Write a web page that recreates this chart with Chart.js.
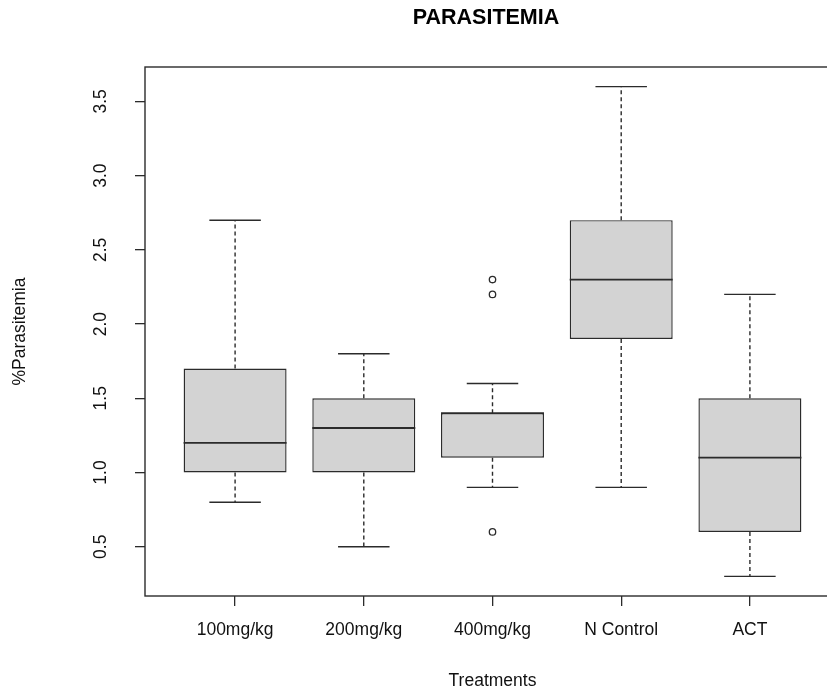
<!DOCTYPE html>
<html>
<head>
<meta charset="utf-8">
<title>PARASITEMIA</title>
<script src="https://cdn.jsdelivr.net/npm/chart.js@4"></script>
<style>
    html, body { margin: 0; padding: 0; background: #fff; overflow: hidden; }
    #wrap { width: 827px; height: 692px; overflow: hidden; }
</style>
</head>
<body>
<div id="wrap">
    <canvas id="chart-box" width="850" height="692"></canvas>
</div>
<script>
// valores
const groups = ['100mg/kg', '200mg/kg', '400mg/kg', 'N Control', 'ACT'];
const whiskerLow = [0.8, 0.5, 0.9, 0.9, 0.3];
const q1 = [1.0, 1.0, 1.1, 1.9, 0.6];
const median = [1.2, 1.3, 1.4, 2.3, 1.1];
const q3 = [1.7, 1.5, 1.4, 2.7, 1.5];
const whiskerHigh = [2.7, 1.8, 1.6, 3.6, 2.2];
const outlierGroup = [3, 3, 3];
const outlierValue = [0.6, 2.2, 2.3];
const yTicks = [0.5, 1.0, 1.5, 2.0, 2.5, 3.0, 3.5];
const xTicks = [1, 2, 3, 4, 5];

const lineColor = '#2b2b2b';
const fontFamily = "'Liberation Sans', Arial, sans-serif";
const canvasBox = document.getElementById('chart-box');

const boxData = groups.map((g, i) => ({ x: i + 1, y: [q1[i], q3[i]] }));
const outlierData = outlierGroup.map((g, i) => ({ x: g, y: outlierValue[i] }));

// bigodes, medianas, moldura e textos do eixo y
const boxExtras = {
    id: 'boxExtras',
    afterDatasetsDraw(chart) {
        const { ctx, chartArea } = chart;
        const xs = chart.scales.x;
        const ys = chart.scales.y;
        ctx.save();
        ctx.strokeStyle = lineColor;
        ctx.lineWidth = 1.4;
        groups.forEach((g, i) => {
            const cx = xs.getPixelForValue(i + 1);
            const capL = xs.getPixelForValue(i + 1 - 0.2);
            const capR = xs.getPixelForValue(i + 1 + 0.2);
            const boxL = xs.getPixelForValue(i + 1 - 0.4);
            const boxR = xs.getPixelForValue(i + 1 + 0.4);
            // tracejado
            ctx.setLineDash([4, 3]);
            ctx.beginPath();
            ctx.moveTo(cx, ys.getPixelForValue(q3[i]));
            ctx.lineTo(cx, ys.getPixelForValue(whiskerHigh[i]));
            ctx.moveTo(cx, ys.getPixelForValue(q1[i]));
            ctx.lineTo(cx, ys.getPixelForValue(whiskerLow[i]));
            ctx.stroke();
            ctx.setLineDash([]);
            // caps
            ctx.beginPath();
            ctx.moveTo(capL, ys.getPixelForValue(whiskerHigh[i]));
            ctx.lineTo(capR, ys.getPixelForValue(whiskerHigh[i]));
            ctx.moveTo(capL, ys.getPixelForValue(whiskerLow[i]));
            ctx.lineTo(capR, ys.getPixelForValue(whiskerLow[i]));
            ctx.stroke();
            // mediana
            ctx.lineWidth = 1.8;
            ctx.beginPath();
            ctx.moveTo(boxL, ys.getPixelForValue(median[i]));
            ctx.lineTo(boxR, ys.getPixelForValue(median[i]));
            ctx.stroke();
            ctx.lineWidth = 1.4;
        });
        // moldura
        ctx.strokeRect(chartArea.left, chartArea.top, chartArea.right - chartArea.left, chartArea.bottom - chartArea.top);
        ctx.restore();
    },
    afterDraw(chart) {
        const { ctx } = chart;
        const ys = chart.scales.y;
        ctx.save();
        ctx.fillStyle = '#111';
        ctx.font = '17.5px ' + fontFamily;
        ctx.textAlign = 'center';
        ctx.textBaseline = 'middle';
        yTicks.forEach(v => {
            ctx.save();
            ctx.translate(101, ys.getPixelForValue(v));
            ctx.rotate(-Math.PI / 2);
            ctx.fillText(v.toFixed(1), 0, 0);
            ctx.restore();
        });
        ctx.fillStyle = '#000';
        ctx.font = 'bold 21.5px ' + fontFamily;
        ctx.fillText('PARASITEMIA', 486, 18);
        ctx.restore();
    }
};

new Chart(canvasBox, {
    type: 'bar',
    data: {
        datasets: [{
            label: 'box',
            data: boxData,
            backgroundColor: '#d3d3d3',
            borderColor: lineColor,
            borderWidth: 1.4,
            borderSkipped: false,
            categoryPercentage: 1,
            barPercentage: 0.8
        }, {
            type: 'scatter',
            label: 'outliers',
            data: outlierData,
            pointRadius: 3.2,
            pointBorderWidth: 1.3,
            pointBackgroundColor: 'rgba(0,0,0,0)',
            pointBorderColor: lineColor
        }]
    },
    options: {
        responsive: false,
        animation: false,
        layout: { padding: { top: 67, right: 10, bottom: 0, left: 0 } },
        plugins: {
            legend: { display: false },
            tooltip: { enabled: false },
            title: { display: false }
        },
        scales: {
            x: {
                type: 'linear',
                min: 0.3,
                max: 5.7,
                offset: false,
                afterBuildTicks: (scale) => { scale.ticks = xTicks.map(v => ({ value: v })); },
                afterFit: (scale) => { scale.height = 96; },
                border: { display: false },
                grid: { offset: false, drawOnChartArea: false, drawTicks: true, tickLength: 10, color: lineColor, lineWidth: 1.3 },
                ticks: {
                    callback: (v) => groups[v - 1],
                    color: '#111',
                    padding: 14,
                    maxRotation: 0,
                    autoSkip: false,
                    font: { family: fontFamily, size: 17.5 }
                },
                title: {
                    display: true,
                    text: 'Treatments',
                    color: '#111',
                    padding: { bottom: 0.5 },
                    font: { family: fontFamily, size: 17.5 }
                }
            },
            y: {
                type: 'linear',
                min: 0.168,
                max: 3.732,
                afterBuildTicks: (scale) => { scale.ticks = yTicks.map(v => ({ value: v })); },
                afterFit: (scale) => { scale.width = 145; },
                border: { display: false },
                grid: { drawOnChartArea: false, drawTicks: true, tickLength: 10, color: lineColor, lineWidth: 1.3 },
                ticks: { display: false },
                title: {
                    display: true,
                    text: '%Parasitemia',
                    color: '#111',
                    padding: { top: 9.5 },
                    font: { family: fontFamily, size: 17.5 }
                }
            }
        }
    },
    plugins: [boxExtras]
});
</script>
</body>
</html>
